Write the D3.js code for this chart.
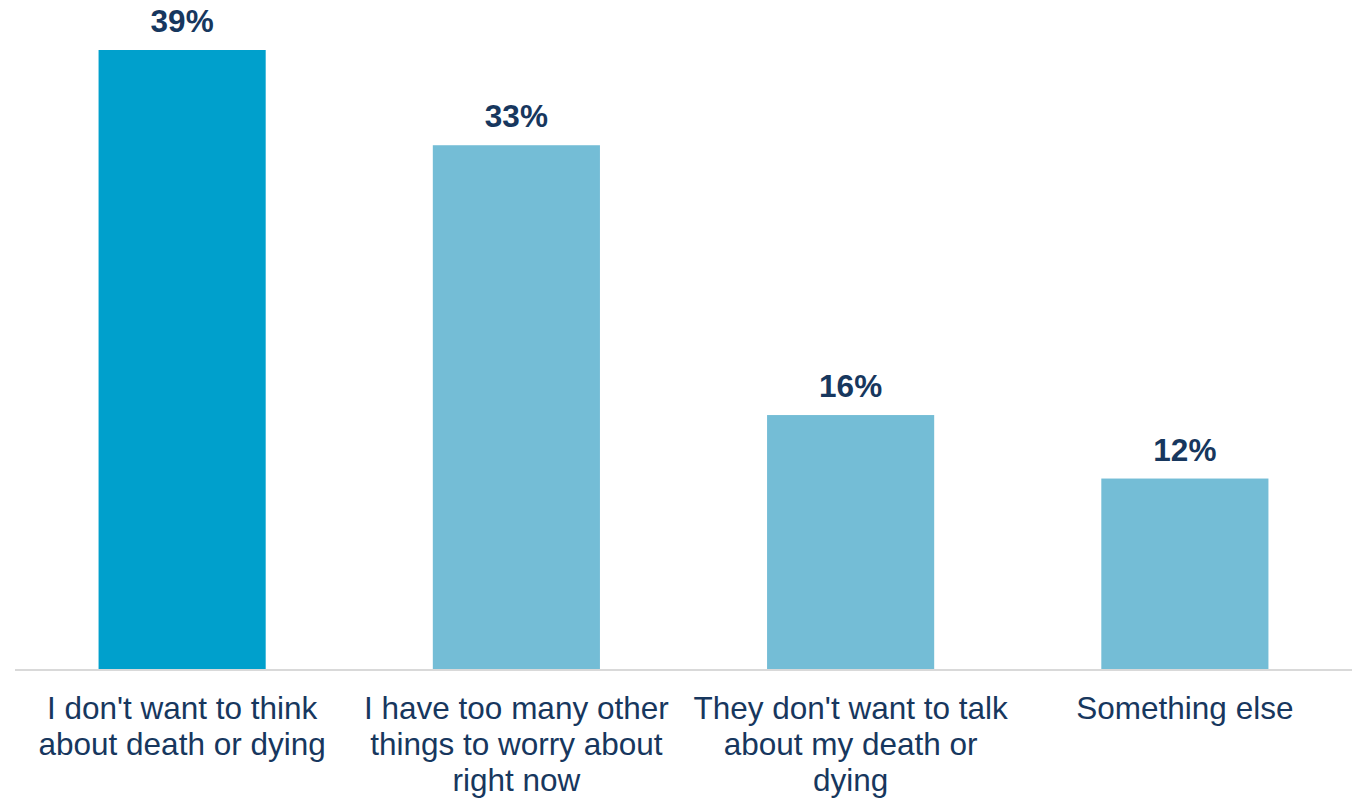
<!DOCTYPE html>
<html>
<head>
<meta charset="utf-8">
<script src="https://cdn.jsdelivr.net/npm/d3@7"></script>
<style>
  body { margin: 0; background: #fff; }
  text { font-family: "Liberation Sans", Arial, sans-serif; }
</style>
</head>
<body>
<div id="chart"></div>
<script>
var width = 1358;
var height = 799;

// data
var categories = [
    ["I don't want to think", "about death or dying"],
    ["I have too many other", "things to worry about", "right now"],
    ["They don't want to talk", "about my death or", "dying"],
    ["Something else"]
];
var values = [39, 33, 16, 12];
var valueLabels = ["39%", "33%", "16%", "12%"];

var textColor = "#17375E";
var barColors = ["#00A0CC", "#74BDD6", "#74BDD6", "#74BDD6"];

var svg = d3.select("#chart")
    .append("svg")
    .attr("width", width)
    .attr("height", height);

var x = d3.scaleBand()
    .domain(d3.range(values.length))
    .range([15, 1352])
    .paddingInner(0.5)
    .paddingOuter(0.25);

var y = d3.scaleLinear()
    .domain([0, 39])
    .range([669, 50]);

// bars
svg.selectAll(".bar")
    .data(values)
    .enter().append("rect")
    .attr("class", "bar")
    .attr("x", function (d, i) { return x(i); })
    .attr("y", function (d) { return y(d); })
    .attr("width", x.bandwidth())
    .attr("height", function (d) { return y(0) - y(d); })
    .attr("fill", function (d, i) { return barColors[i]; });

// baseline
svg.append("line")
    .attr("x1", 15)
    .attr("x2", 1352)
    .attr("y1", y(0) + 1)
    .attr("y2", y(0) + 1)
    .attr("stroke", "#D9D9D9")
    .attr("stroke-width", 2);

// value labels
svg.selectAll(".val")
    .data(values)
    .enter().append("text")
    .attr("class", "val")
    .attr("x", function (d, i) { return x(i) + x.bandwidth() / 2; })
    .attr("y", function (d) { return y(d) - 18; })
    .attr("text-anchor", "middle")
    .attr("font-size", 31.5)
    .attr("font-weight", "bold")
    .attr("fill", textColor)
    .text(function (d, i) { return valueLabels[i]; });

// category labels
var cat = svg.selectAll(".cat")
    .data(categories)
    .enter().append("text")
    .attr("class", "cat")
    .attr("text-anchor", "middle")
    .attr("font-size", 31.5)
    .attr("fill", textColor);

cat.selectAll("tspan")
    .data(function (d, i) { return d.map(function (s) { return { s: s, i: i }; }); })
    .enter().append("tspan")
    .attr("x", function (d) { return x(d.i) + x.bandwidth() / 2; })
    .attr("y", function (d, j) { return 719 + j * 36; })
    .text(function (d) { return d.s; });
</script>
</body>
</html>
